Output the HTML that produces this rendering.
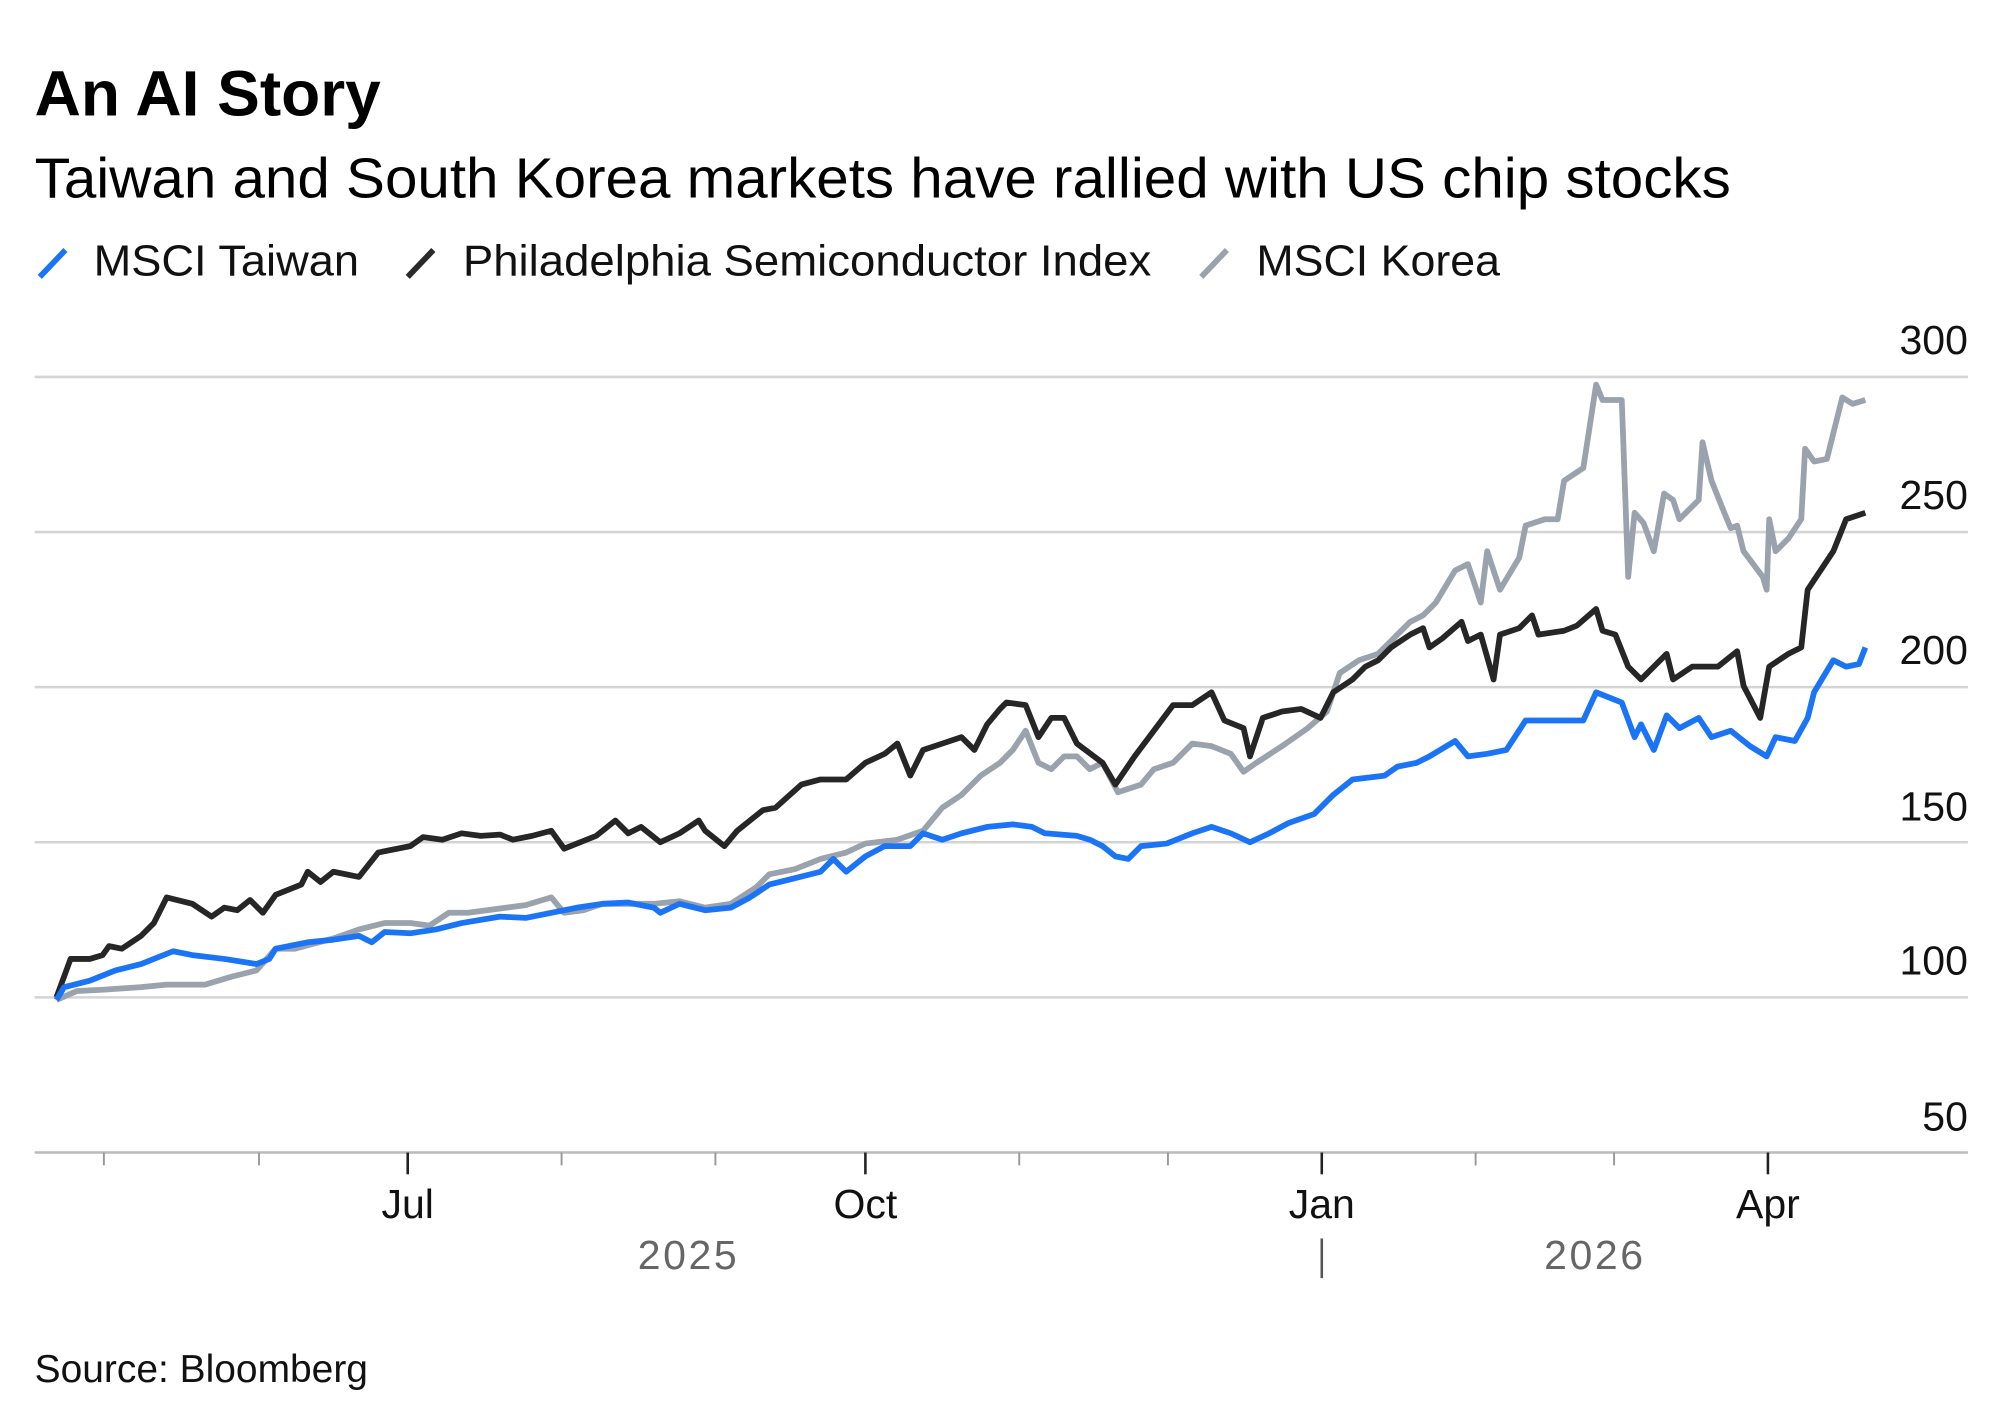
<!DOCTYPE html>
<html><head><meta charset="utf-8"><style>html,body{margin:0;padding:0;background:#fff}svg{display:block}</style></head>
<body>
<svg width="2000" height="1422" viewBox="0 0 1560 1109.2" xmlns="http://www.w3.org/2000/svg" font-family="'Liberation Sans', sans-serif">
<rect width="1560" height="1109.2" fill="#fff"/>
<text x="27" y="90" font-size="50" font-weight="bold" fill="#000" textLength="270" lengthAdjust="spacingAndGlyphs">An AI Story</text>
<text x="27" y="154" font-size="44" fill="#000" textLength="1323" lengthAdjust="spacingAndGlyphs">Taiwan and South Korea markets have rallied with US chip stocks</text>
<g stroke-width="4.5" stroke-linecap="butt">
<line x1="31" y1="216" x2="51" y2="195" stroke="#1a74f5"/>
<line x1="318" y1="216" x2="338" y2="195" stroke="#2a2a2a"/>
<line x1="937" y1="216" x2="957" y2="195" stroke="#9aa2ad"/>
</g>
<g font-size="34" fill="#111">
<text x="73" y="215" textLength="207" lengthAdjust="spacingAndGlyphs">MSCI Taiwan</text>
<text x="361" y="215" textLength="537" lengthAdjust="spacingAndGlyphs">Philadelphia Semiconductor Index</text>
<text x="980" y="215" textLength="190" lengthAdjust="spacingAndGlyphs">MSCI Korea</text>
</g>
<g stroke="#d4d4d4" stroke-width="2">
<line x1="27" y1="294" x2="1535" y2="294"/>
<line x1="27" y1="415" x2="1535" y2="415"/>
<line x1="27" y1="536" x2="1535" y2="536"/>
<line x1="27" y1="657" x2="1535" y2="657"/>
<line x1="27" y1="778" x2="1535" y2="778"/>
</g>
<line x1="27" y1="899" x2="1535" y2="899" stroke="#bbb" stroke-width="2"/>
<g font-size="32" fill="#111" text-anchor="end">
<text x="1535" y="276">300</text>
<text x="1535" y="397">250</text>
<text x="1535" y="518">200</text>
<text x="1535" y="640">150</text>
<text x="1535" y="760">100</text>
<text x="1535" y="882">50</text>
</g>
<g stroke="#999" stroke-width="1.5">
<line x1="81" y1="899" x2="81" y2="909"/><line x1="202" y1="899" x2="202" y2="909"/>
<line x1="438" y1="899" x2="438" y2="909"/><line x1="558" y1="899" x2="558" y2="909"/>
<line x1="795" y1="899" x2="795" y2="909"/><line x1="911" y1="899" x2="911" y2="909"/>
<line x1="1151" y1="899" x2="1151" y2="909"/><line x1="1259" y1="899" x2="1259" y2="909"/>
</g>
<g stroke="#222" stroke-width="2">
<line x1="318" y1="899" x2="318" y2="916"/><line x1="675" y1="899" x2="675" y2="916"/>
<line x1="1031" y1="899" x2="1031" y2="916"/><line x1="1379" y1="899" x2="1379" y2="916"/>
<line x1="1031" y1="966" x2="1031" y2="997" stroke="#555"/>
</g>
<g font-size="32" fill="#111" text-anchor="middle">
<text x="318" y="950">Jul</text><text x="675" y="950">Oct</text>
<text x="1031" y="950">Jan</text><text x="1379" y="950">Apr</text>
</g>
<g font-size="32" fill="#666" text-anchor="middle" letter-spacing="2">
<text x="537" y="990">2025</text><text x="1244" y="990">2026</text>
</g>
<text x="27" y="1078" font-size="30" fill="#111" textLength="260" lengthAdjust="spacingAndGlyphs">Source: Bloomberg</text>
<g fill="none" stroke-width="4.5" stroke-linejoin="round">
<polyline stroke="#9aa2ad" points="44,780 60,773 80,772 110,770 130,768 160,768 180,762 200,757 215,740 230,740 260,732 280,725 300,720 320,720 335,722 350,712 365,712 380,710 395,708 410,706 430,700 440,712 455,710 470,705 490,705 510,705 530,703 550,708 570,705 590,692 600,682 620,678 640,670 660,665 675,658 700,655 720,648 735,630 750,620 765,605 780,595 790,585 800,570 810,595 820,600 830,590 840,590 850,600 860,595 872,618 890,612 900,600 915,595 930,580 945,582 960,588 970,602 980,595 1000,582 1020,568 1035,555 1045,525 1060,515 1075,510 1090,495 1100,485 1110,480 1120,470 1135,445 1145,440 1155,470 1160,430 1170,460 1185,435 1190,410 1205,405 1215,405 1220,375 1235,365 1245,300 1250,312 1265,312 1270,450 1275,400 1282,408 1290,430 1298,385 1305,390 1310,405 1325,390 1328,345 1335,375 1345,400 1350,412 1355,410 1360,430 1375,450 1378,460 1380,405 1385,430 1395,420 1405,405 1408,350 1415,360 1425,358 1437,310 1445,315 1455,312"/>
<polyline stroke="#262626" points="44,778 55,748 70,748 80,745 85,738 95,740 110,730 120,720 130,700 150,705 165,715 175,708 185,710 195,702 205,712 215,698 235,690 240,680 250,688 260,680 280,684 295,665 320,660 330,653 345,655 360,650 375,652 390,651 400,655 415,652 430,648 440,662 450,658 465,652 480,640 490,650 500,645 515,657 530,650 545,640 550,648 565,660 575,648 595,632 605,630 625,612 640,608 660,608 675,595 690,588 700,580 710,605 720,585 735,580 750,575 760,585 770,565 780,553 785,548 800,550 810,575 820,560 830,560 840,580 860,595 870,612 885,590 900,570 915,550 930,550 945,540 955,562 970,568 975,590 985,560 1000,555 1015,553 1030,560 1040,540 1055,530 1065,520 1075,515 1085,505 1100,495 1110,490 1115,505 1125,498 1140,485 1145,500 1155,495 1165,530 1170,495 1185,490 1195,480 1200,495 1220,492 1230,488 1245,475 1250,492 1260,495 1270,520 1280,530 1285,525 1300,510 1305,530 1320,520 1340,520 1355,508 1360,535 1373,560 1380,520 1395,510 1405,505 1410,460 1420,445 1430,430 1440,405 1455,400"/>
<polyline stroke="#1a74f5" points="44,780 50,770 70,765 90,757 110,752 135,742 150,745 175,748 200,752 210,748 215,740 240,735 260,733 280,730 290,735 300,727 320,728 340,725 360,720 390,715 410,716 430,712 450,708 470,705 490,704 510,708 515,712 530,705 550,710 570,708 585,700 600,690 620,685 640,680 650,670 660,680 675,668 690,660 710,660 720,650 735,655 750,650 770,645 790,643 805,645 815,650 840,652 850,655 860,660 870,668 880,670 890,660 910,658 930,650 945,645 960,650 975,657 990,650 1005,642 1025,635 1040,620 1055,608 1080,605 1090,598 1105,595 1115,590 1135,578 1145,590 1160,588 1175,585 1190,562 1235,562 1245,540 1265,548 1275,575 1280,565 1290,585 1300,558 1310,568 1325,560 1335,575 1350,570 1365,582 1378,590 1385,575 1400,578 1410,560 1415,540 1430,515 1440,520 1450,518 1455,505"/>
</g>
</svg>
</body></html>
